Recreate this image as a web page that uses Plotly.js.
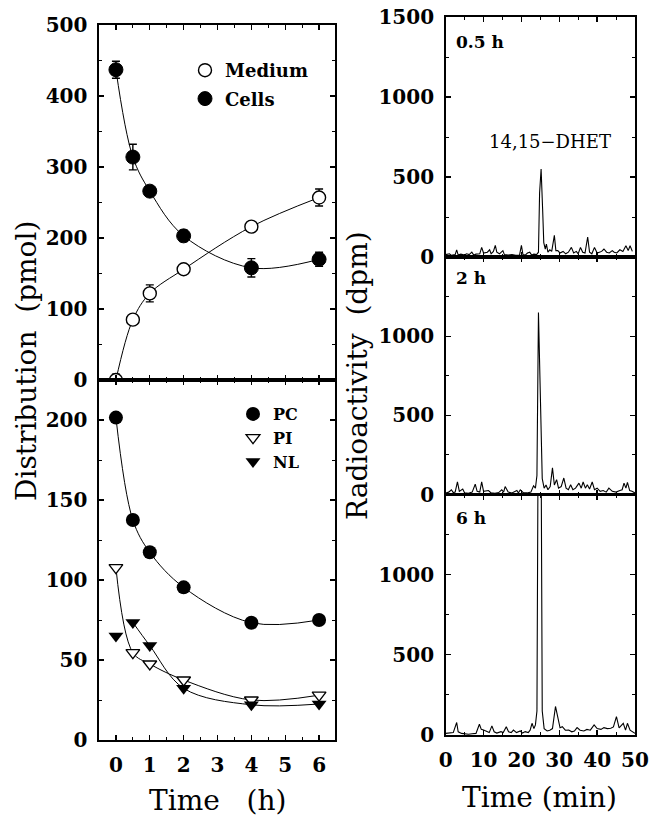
<!DOCTYPE html>
<html>
<head>
<meta charset="utf-8">
<script src="https://cdn.plot.ly/plotly-3.0.1.min.js"></script>
<style>html,body{margin:0;padding:0;background:#fff;}#chart{width:649px;height:818px;}</style>
</head>
<body>
<div id="chart"></div>
<script>
// ---- Left panels: time course (h) ----
var timeH = [0, 0.5, 1, 2, 4, 6];
var medium = [0, 85, 122, 156, 216, 257];
var mediumErr = [8, 4, 12, 4, 4, 12];
var cells = [437, 314, 266, 203, 158, 170];
var cellsErr = [12, 18, 4, 8, 13, 10];
var pc = [201.5, 137.5, 117.3, 95.4, 73.3, 75];
var pi = [107.7, 54.6, 47.5, 37.5, 25, 28];
var nl = [65, 73.5, 59, 32.3, 22, 22.5];

// ---- Right panels: radio-HPLC traces (min, dpm) ----
var t05 = [0, 1, 1.5, 2.5, 2.9, 3.3, 4, 5, 5.5, 6.2,
  6.9, 7.4, 8, 9, 9.5, 10, 11, 11.6, 12, 12.6,
  13.1, 13.5, 14.2, 15.1, 15.5, 16.5, 17.5, 18.5, 19.5, 20,
  20.4, 21, 21.6, 22.2, 22.7, 23.3, 24, 24.5, 24.8, 25.2,
  25.6, 25.9, 26.3, 26.6, 27, 27.5, 28, 28.7, 29.1, 29.6,
  30.2, 31, 31.7, 32.4, 33.2, 33.8, 34.5, 35, 35.6, 36.2,
  36.8, 37.5, 38, 38.6, 39.3, 40, 40.6, 41.2, 41.8, 42.5,
  43.2, 44, 44.5, 45.2, 46, 46.8, 47.6, 48.2, 48.7, 49.3];
var dpm05 = [15, 20, 10, 15, 45, 12, 18, 12, 20, 15,
  30, 12, 18, 20, 60, 25, 30, 45, 20, 35,
  73, 30, 20, 40, 15, 12, 15, 10, 12, 73,
  15, 12, 25, 30, 12, 18, 15, 30, 400, 550,
  300, 90, 50, 80, 30, 45, 35, 135, 40, 40,
  25, 35, 20, 30, 60, 25, 35, 20, 60, 30,
  25, 125, 30, 20, 60, 25, 30, 35, 50, 30,
  25, 40, 30, 25, 45, 35, 70, 40, 70, 35];

var t2 = [0, 0.8, 1.5, 2.0, 2.5, 3.1, 3.6, 4.5, 5, 6,
  7, 7.8, 8.3, 9, 9.5, 10, 11.3, 12, 13, 14,
  14.8, 15.3, 15.7, 16.5, 17.5, 18.8, 19.2, 19.7, 20.5, 21.5,
  22.5, 23.2, 23.7, 24.1, 24.5, 24.8, 25.1, 25.5, 26, 26.5,
  27, 27.6, 28.2, 28.7, 29.3, 29.8, 30.5, 31.2, 31.8, 32.4,
  33, 33.6, 34.3, 35.2, 35.8, 36.3, 36.9, 37.4, 38, 38.7,
  39.3, 40, 40.8, 41.6, 42.4, 43.1, 44, 45, 46, 46.6,
  47.1, 47.6, 48, 48.6, 49.2, 50];
var dpm2 = [10, 15, 30, 12, 15, 80, 20, 35, 10, 8,
  15, 65, 20, 15, 80, 20, 25, 10, 8, 12,
  30, 15, 50, 15, 10, 25, 10, 30, 12, 10,
  15, 55, 40, 120, 1150, 830, 600, 100, 40, 60,
  30, 50, 168, 60, 94, 40, 50, 104, 40, 30,
  62, 30, 40, 72, 40, 79, 40, 62, 35, 79,
  30, 40, 20, 25, 15, 40, 20, 15, 25, 30,
  72, 40, 77, 25, 20, 10];

var t6 = [0, 1, 2, 2.9, 3.3, 4.2, 5, 6, 7, 8,
  8.9, 9.4, 10, 10.8, 11.5, 12.2, 12.8, 13.5, 14.6, 15.2,
  16, 16.6, 17.3, 17.9, 18.7, 19.7, 20.3, 21, 21.8, 22.3,
  22.8, 23.3, 23.7, 24.1, 24.4, 25.2, 25.5, 26, 26.8, 27.5,
  28.2, 29, 29.6, 30.2, 30.8, 31.6, 32.5, 33.3, 34, 34.7,
  35.5, 36.5, 37.3, 38.2, 39.2, 40, 41, 41.8, 42.7, 43.6,
  44.3, 45.1, 45.8, 46.4, 46.9, 47.5, 48, 48.7, 49.4, 50];
var dpm6 = [10, 12, 15, 78, 20, 10, 8, 5, 8, 10,
  67, 35, 31, 20, 15, 57, 20, 12, 21, 15,
  52, 20, 15, 31, 15, 25, 12, 21, 15, 30,
  73, 40, 63, 150, 1800, 1800, 150, 40, 25, 30,
  40, 178, 105, 45, 52, 30, 31, 20, 25, 46,
  30, 25, 35, 30, 63, 40, 35, 46, 40, 42,
  50, 115, 45, 60, 73, 30, 73, 30, 20, 10];

var radTicks = [0, 500, 1000];
var panelLabels = ['0.5 h', '2 h', '6 h'];

// ---- helpers ----
var W = 649, H = 818;
function px(x) { return x / W; }
function py(y) { return 1 - y / H; }
var tickFont = {family: 'DejaVu Serif', size: 20, color: '#000', weight: 'bold'};

function axis(domain, range, dtick, minorDtick, showLabels, extra) {
  var a = {
    domain: domain, range: range, dtick: dtick, tick0: 0,
    showline: true, linecolor: '#000', linewidth: 1.6, mirror: 'allticks',
    ticks: 'inside', ticklen: 5, tickwidth: 1.3, tickcolor: '#000',
    minor: {ticks: 'inside', ticklen: 3, tickwidth: 1, tickcolor: '#000', dtick: minorDtick, showgrid: false},
    showgrid: false, zeroline: false, showticklabels: showLabels, ticklabeloverflow: 'allow',
    tickfont: tickFont, ticklabelstandoff: 6, fixedrange: true
  };
  for (var k in extra) a[k] = extra[k];
  return a;
}

var lineStyle = {color: '#000', width: 1, shape: 'spline', smoothing: 1};
var errStyle = function (arr) { return {type: 'data', array: arr, visible: true, color: '#000', thickness: 1.4, width: 4}; };

var data = [
  // top-left lines
  {x: timeH, y: medium, mode: 'lines', line: lineStyle, xaxis: 'x', yaxis: 'y', showlegend: false, hoverinfo: 'skip'},
  {x: timeH, y: cells, mode: 'lines', line: lineStyle, xaxis: 'x', yaxis: 'y', showlegend: false, hoverinfo: 'skip'},
  // top-left markers
  {x: timeH, y: medium, name: 'Medium', mode: 'markers', xaxis: 'x', yaxis: 'y', legend: 'legend', legendgroup: 'm',
   marker: {symbol: 'circle', size: 13, color: '#fff', line: {color: '#000', width: 1.4}},
   error_y: errStyle(mediumErr)},
  {x: timeH, y: cells, name: 'Cells', mode: 'markers', xaxis: 'x', yaxis: 'y', legend: 'legend', legendgroup: 'c',
   marker: {symbol: 'circle', size: 14, color: '#000', line: {color: '#000', width: 1}},
   error_y: errStyle(cellsErr)},
  // bottom-left lines
  {x: timeH, y: pc, mode: 'lines', line: lineStyle, xaxis: 'x2', yaxis: 'y2', showlegend: false, hoverinfo: 'skip'},
  {x: timeH, y: pi, mode: 'lines', line: lineStyle, xaxis: 'x2', yaxis: 'y2', showlegend: false, hoverinfo: 'skip'},
  {x: timeH.slice(1), y: nl.slice(1), mode: 'lines', line: {color: '#000', width: 1, shape: 'spline', smoothing: 1},
   xaxis: 'x2', yaxis: 'y2', showlegend: false, hoverinfo: 'skip'},
  // bottom-left markers
  {x: timeH, y: pc, name: 'PC', mode: 'markers', xaxis: 'x2', yaxis: 'y2', legend: 'legend2',
   marker: {symbol: 'circle', size: 14, color: '#000'}},
  {x: timeH, y: pi, name: 'PI', mode: 'markers', xaxis: 'x2', yaxis: 'y2', legend: 'legend2',
   marker: {symbol: 'triangle-down', size: 12, color: '#fff', line: {color: '#000', width: 1.3}}},
  {x: timeH, y: nl, name: 'NL', mode: 'markers', xaxis: 'x2', yaxis: 'y2', legend: 'legend2',
   marker: {symbol: 'triangle-down', size: 13, color: '#000'}},
  // right traces
  {x: t05, y: dpm05, mode: 'lines', line: {color: '#000', width: 1.1}, xaxis: 'x3', yaxis: 'y3', showlegend: false},
  {x: t2, y: dpm2, mode: 'lines', line: {color: '#000', width: 1.1}, xaxis: 'x4', yaxis: 'y4', showlegend: false},
  {x: t6, y: dpm6, mode: 'lines', line: {color: '#000', width: 1.1}, xaxis: 'x5', yaxis: 'y5', showlegend: false}
];

var leftX = [px(99), px(335)];
var rightX = [px(445.7), px(635)];
var xRangeL = [-0.5, 6.47];

var annFont = {family: 'DejaVu Serif', size: 17, color: '#000', weight: 'bold'};
var titleFont = {family: 'DejaVu Serif', size: 28, color: '#000'};

var layout = {
  width: W, height: H,
  margin: {l: 0, r: 0, t: 0, b: 0},
  paper_bgcolor: '#fff', plot_bgcolor: '#fff',
  showlegend: true,
  xaxis: axis(leftX, xRangeL, 1, 0.5, false, {anchor: 'y'}),
  yaxis: axis([py(380), py(25)], [0, 500], 100, 50, true, {anchor: 'x'}),
  xaxis2: axis(leftX, xRangeL, 1, 0.5, true, {anchor: 'y2'}),
  yaxis2: axis([py(740), py(380)], [0, 225], 50, 25, true, {anchor: 'x2'}),
  xaxis3: axis(rightX, [0, 50], 10, 5, false, {anchor: 'y3'}),
  yaxis3: axis([py(257), py(17)], [0, 1500], 500, 250, true, {anchor: 'x3'}),
  xaxis4: axis(rightX, [0, 50], 10, 5, false, {anchor: 'y4'}),
  yaxis4: axis([py(494.5), py(257)], [0, 1500], 500, 250, true, {anchor: 'x4', tickmode: 'array', tickvals: radTicks}),
  xaxis5: axis(rightX, [0, 50], 10, 5, true, {anchor: 'y5'}),
  yaxis5: axis([py(735), py(494.5)], [0, 1500], 500, 250, true, {anchor: 'x5', tickmode: 'array', tickvals: radTicks}),
  legend: {x: px(185), y: py(52), xanchor: 'left', yanchor: 'top', bgcolor: 'rgba(0,0,0,0)', traceorder: 'grouped',
           font: {family: 'DejaVu Serif', size: 18, color: '#000', weight: 'bold'}, itemwidth: 30, tracegroupgap: 2},
  legend2: {x: px(233), y: py(397), xanchor: 'left', yanchor: 'top', bgcolor: 'rgba(0,0,0,0)',
            font: {family: 'DejaVu Serif', size: 16, color: '#000', weight: 'bold'}, itemwidth: 30, tracegroupgap: 0},
  annotations: [
    {text: 'Distribution\u00a0\u00a0(pmol)', x: px(27), y: py(361), xref: 'paper', yref: 'paper', showarrow: false,
     textangle: -90, font: titleFont, xanchor: 'center', yanchor: 'middle'},
    {text: 'Radioactivity\u00a0\u00a0(dpm)', x: px(357), y: py(376), xref: 'paper', yref: 'paper', showarrow: false,
     textangle: -90, font: titleFont, xanchor: 'center', yanchor: 'middle'},
    {text: 'Time\u00a0\u00a0\u00a0(h)', x: px(217), y: py(800), xref: 'paper', yref: 'paper', showarrow: false,
     font: titleFont, xanchor: 'center', yanchor: 'middle'},
    {text: 'Time\u00a0(min)', x: px(539), y: py(797), xref: 'paper', yref: 'paper', showarrow: false,
     font: titleFont, xanchor: 'center', yanchor: 'middle'},
    {text: panelLabels[0], x: px(454), y: py(42), xref: 'paper', yref: 'paper', showarrow: false,
     font: annFont, xanchor: 'left', yanchor: 'middle'},
    {text: panelLabels[1], x: px(454), y: py(278), xref: 'paper', yref: 'paper', showarrow: false,
     font: annFont, xanchor: 'left', yanchor: 'middle'},
    {text: panelLabels[2], x: px(454), y: py(518), xref: 'paper', yref: 'paper', showarrow: false,
     font: annFont, xanchor: 'left', yanchor: 'middle'},
    {text: '14,15\u2212DHET', x: px(550), y: py(142), xref: 'paper', yref: 'paper', showarrow: false,
     font: {family: 'DejaVu Serif', size: 18, color: '#000'}, xanchor: 'center', yanchor: 'middle'}
  ]
};

Plotly.newPlot('chart', data, layout, {staticPlot: true, displayModeBar: false});
</script>
</body>
</html>
